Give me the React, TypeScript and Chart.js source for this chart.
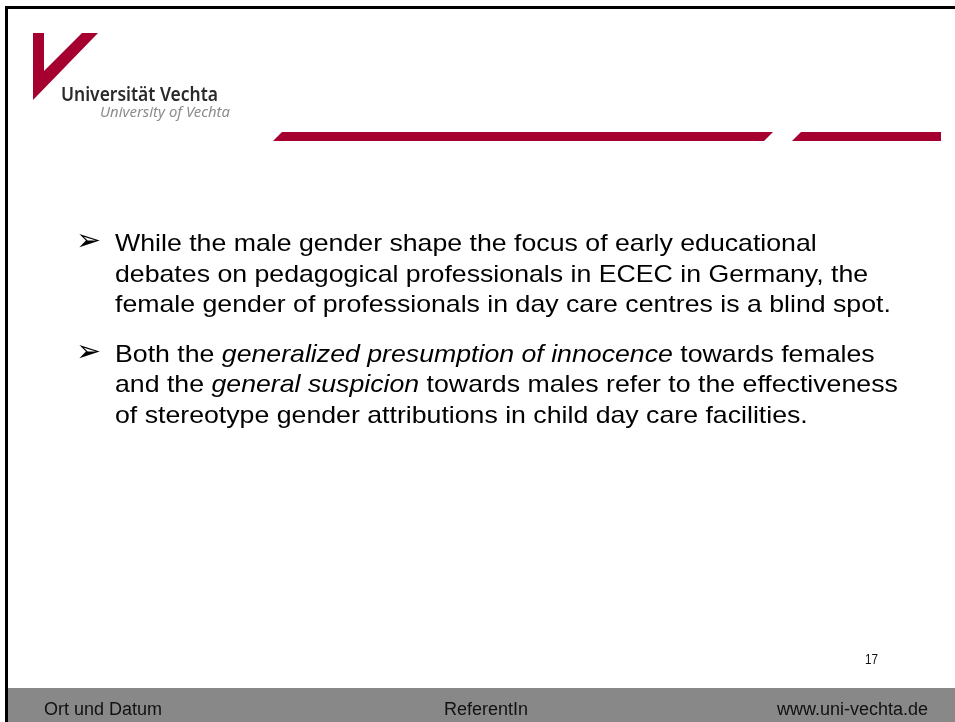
import React, { useEffect, useLayoutEffect, useRef } from "react";
import { Chart, registerables } from "chart.js";

Chart.register(...registerables);

// ---- content ----
const LOGO_TITLE = "Universität Vechta";
const LOGO_SUBTITLE = "University of Vechta";
const BULLET_SYMBOL = "➢";
type Seg = [string, boolean];
const BULLET_1_LINES: Seg[][] = [
  [["While the male gender shape the focus of early educational", false]],
  [["debates on pedagogical professionals in ECEC in Germany, the", false]],
  [["female gender of professionals in day care centres is a blind spot.", false]],
];
const BULLET_2_LINES: Seg[][] = [
  [["Both the ", false], ["generalized presumption of innocence", true], [" towards females", false]],
  [["and the ", false], ["general suspicion", true], [" towards males refer to the effectiveness", false]],
  [["of stereotype gender attributions in child day care facilities.", false]],
];
const FOOTER_LEFT = "Ort und Datum";
const FOOTER_CENTER = "ReferentIn";
const FOOTER_RIGHT = "www.uni-vechta.de";
const PAGE_NUMBER = "17";

const RED = "#a5002f";

const decorPlugin = {
  id: "slideDecor",
  beforeDraw(chart: any) {
    const ctx = chart.ctx as CanvasRenderingContext2D;
    ctx.save();
    ctx.fillStyle = "#ffffff";
    ctx.fillRect(0, 0, 955, 722);
    // frame
    ctx.fillStyle = "#000000";
    ctx.fillRect(5, 6, 950, 3);
    ctx.fillRect(5, 6, 3, 716);
    // footer band
    ctx.fillStyle = "#888888";
    ctx.fillRect(8, 688, 947, 34);
    // logo V
    ctx.fillStyle = RED;
    ctx.beginPath();
    ctx.moveTo(33, 33);
    ctx.lineTo(44, 33);
    ctx.lineTo(44, 71);
    ctx.lineTo(82, 33);
    ctx.lineTo(98, 33);
    ctx.lineTo(33, 100);
    ctx.closePath();
    ctx.fill();
    // header bars
    ctx.beginPath();
    ctx.moveTo(273, 141);
    ctx.lineTo(282, 132);
    ctx.lineTo(773, 132);
    ctx.lineTo(764, 141);
    ctx.closePath();
    ctx.fill();
    ctx.beginPath();
    ctx.moveTo(792, 141);
    ctx.lineTo(801, 132);
    ctx.lineTo(941, 132);
    ctx.lineTo(941, 141);
    ctx.closePath();
    ctx.fill();
    ctx.restore();
  },
};

function FitText(props: {
  text: string;
  width: number;
  style: React.CSSProperties;
}) {
  const ref = useRef<HTMLSpanElement>(null);
  useLayoutEffect(() => {
    const el = ref.current;
    if (!el) return;
    el.style.transform = "none";
    const w = el.getBoundingClientRect().width;
    if (w > 0) el.style.transform = `scaleX(${props.width / w})`;
  }, [props.text, props.width]);
  return (
    <span
      ref={ref}
      style={{
        position: "absolute",
        whiteSpace: "nowrap",
        transformOrigin: "left top",
        ...props.style,
      }}
    >
      {props.text}
    </span>
  );
}

const ARIAL = "'Liberation Sans', Arial, sans-serif";
const lsTop = (baseline: number, size: number) => baseline - 0.8465 * size;
const notoTop = (baseline: number, size: number) => baseline - 0.888 * size;

function BodyLine({ segs, baseline }: { segs: Seg[]; baseline: number }) {
  return (
    <div
      style={{
        position: "absolute",
        left: 115,
        top: lsTop(baseline, 24),
        fontFamily: ARIAL,
        fontSize: 24,
        lineHeight: "24px",
        whiteSpace: "pre",
        color: "#000",
        transform: "scaleX(1.112)",
        transformOrigin: "left top",
      }}
    >
      {segs.map(([t, it], i) => (
        <span key={i} style={{ fontStyle: it ? "italic" : "normal" }}>
          {t}
        </span>
      ))}
    </div>
  );
}

function Bullet({ baseline }: { baseline: number }) {
  return (
    <div
      style={{
        position: "absolute",
        left: 76,
        top: baseline - 0.86 * 30,
        fontFamily: "'DejaVu Sans', sans-serif",
        fontSize: 30,
        lineHeight: "30px",
        color: "#000",
      }}
    >
      {BULLET_SYMBOL}
    </div>
  );
}

export default function App() {
  const canvasRef = useRef<HTMLCanvasElement>(null);
  useEffect(() => {
    const c = canvasRef.current;
    if (!c) return;
    const chart = new Chart(c, {
      type: "scatter",
      data: { datasets: [] },
      options: {
        responsive: false,
        animation: false,
        devicePixelRatio: 1,
        events: [],
        plugins: { legend: { display: false }, tooltip: { enabled: false } },
        scales: { x: { display: false }, y: { display: false } },
      },
      plugins: [decorPlugin],
    });
    return () => chart.destroy();
  }, []);

  const b1 = [251, 282, 312];
  const b2 = [362, 392, 423];

  return (
    <div
      style={{
        position: "fixed",
        left: 0,
        top: 0,
        width: 955,
        height: 722,
        overflow: "hidden",
        background: "#fff",
      }}
    >
      <canvas
        ref={canvasRef}
        width={955}
        height={722}
        style={{ position: "absolute", left: 0, top: 0, width: 955, height: 722 }}
      />
      <FitText
        text={LOGO_TITLE}
        width={157}
        style={{
          left: 61,
          top: notoTop(102, 20),
          fontFamily: "'Noto Sans', sans-serif",
          fontWeight: 600,
          fontSize: 20,
          lineHeight: "20px",
          color: "#2a2a2a",
        }}
      />
      <FitText
        text={LOGO_SUBTITLE}
        width={130}
        style={{
          left: 100,
          top: notoTop(117, 15),
          fontFamily: "'Noto Sans', sans-serif",
          fontStyle: "italic",
          fontSize: 15,
          lineHeight: "15px",
          color: "#8c8c8c",
        }}
      />
      <Bullet baseline={b1[0]} />
      {BULLET_1_LINES.map((segs, i) => (
        <BodyLine key={"a" + i} segs={segs} baseline={b1[i]} />
      ))}
      <Bullet baseline={b2[0]} />
      {BULLET_2_LINES.map((segs, i) => (
        <BodyLine key={"b" + i} segs={segs} baseline={b2[i]} />
      ))}
      <FitText
        text={PAGE_NUMBER}
        width={13}
        style={{
          left: 865,
          top: lsTop(664, 15),
          fontFamily: ARIAL,
          fontSize: 15,
          lineHeight: "15px",
          color: "#111",
        }}
      />
      <div
        style={{
          position: "absolute",
          left: 44,
          top: lsTop(715, 18),
          fontFamily: ARIAL,
          fontSize: 18,
          lineHeight: "18px",
          color: "#111",
          whiteSpace: "nowrap",
        }}
      >
        {FOOTER_LEFT}
      </div>
      <div
        style={{
          position: "absolute",
          left: 444,
          top: lsTop(715, 18),
          fontFamily: ARIAL,
          fontSize: 18,
          lineHeight: "18px",
          color: "#111",
          whiteSpace: "nowrap",
        }}
      >
        {FOOTER_CENTER}
      </div>
      <div
        style={{
          position: "absolute",
          right: 955 - 928,
          top: lsTop(715, 18),
          fontFamily: ARIAL,
          fontSize: 18,
          lineHeight: "18px",
          color: "#111",
          whiteSpace: "nowrap",
        }}
      >
        {FOOTER_RIGHT}
      </div>
    </div>
  );
}
